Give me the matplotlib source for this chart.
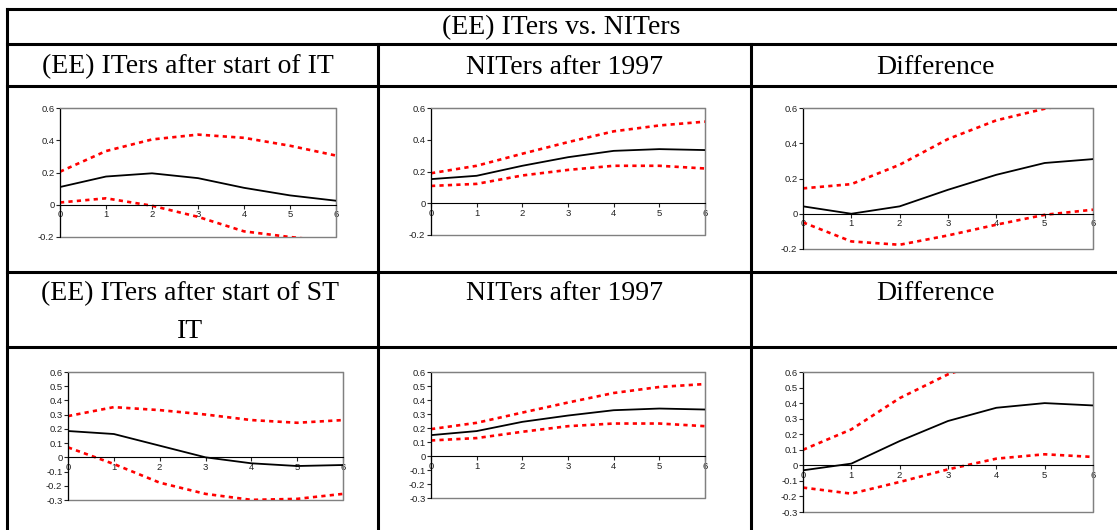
import matplotlib
matplotlib.use('Agg')
import matplotlib.pyplot as plt
from matplotlib.lines import Line2D
from matplotlib.patches import Rectangle

# horizons
steps = [0, 1, 2, 3, 4, 5, 6]

# top row: start of IT
it_mid = [0.11, 0.175, 0.195, 0.165, 0.105, 0.058, 0.025]
it_hi = [0.205, 0.333, 0.405, 0.435, 0.415, 0.366, 0.305]
it_lo = [0.014, 0.04, -0.006, -0.075, -0.165, -0.2, -0.23]

nit_mid = [0.152, 0.173, 0.236, 0.29, 0.33, 0.341, 0.335]
nit_hi = [0.189, 0.236, 0.312, 0.385, 0.453, 0.49, 0.514]
nit_lo = [0.109, 0.122, 0.175, 0.21, 0.236, 0.236, 0.219]

diff_mid = [0.042, 0.0, 0.042, 0.136, 0.221, 0.288, 0.31]
diff_hi = [0.144, 0.168, 0.278, 0.424, 0.53, 0.596, 0.64]
diff_lo = [-0.049, -0.157, -0.176, -0.123, -0.062, -0.006, 0.023]

# bottom row: start of ST IT
st_mid = [0.185, 0.164, 0.082, 0.0, -0.042, -0.061, -0.054]
st_hi = [0.29, 0.353, 0.332, 0.301, 0.262, 0.243, 0.262]
st_lo = [0.07, -0.047, -0.178, -0.257, -0.299, -0.292, -0.257]

nit2_mid = [0.149, 0.178, 0.244, 0.289, 0.327, 0.339, 0.332]
nit2_hi = [0.192, 0.237, 0.31, 0.382, 0.45, 0.493, 0.514]
nit2_lo = [0.111, 0.128, 0.173, 0.213, 0.232, 0.232, 0.213]

diff2_mid = [-0.032, 0.011, 0.156, 0.285, 0.37, 0.40, 0.385]
diff2_hi = [0.1, 0.231, 0.432, 0.585, 0.69, 0.72, 0.72]
diff2_lo = [-0.143, -0.182, -0.107, -0.026, 0.043, 0.071, 0.054]

W, H = 1117, 530
fig = plt.figure(figsize=(W / 100, H / 100), dpi=100)


def px_axes(x0, y0, x1, y1):
    # pixel box (top-left origin) -> figure fraction
    return fig.add_axes([x0 / W, 1 - y1 / H, (x1 - x0) / W, (y1 - y0) / H])


def hline(y, x0=7, x1=W):
    fig.add_artist(Line2D([x0 / W, x1 / W], [1 - y / H, 1 - y / H], color='black', lw=2.2))


def vline(x, y0, y1=H):
    fig.add_artist(Line2D([x / W, x / W], [1 - y0 / H, 1 - y1 / H], color='black', lw=2.2))


# table grid
for y in [9, 44, 86, 272, 347]:
    hline(y)
vline(7, 9)
vline(378, 44)
vline(751, 44)

serif = 'Liberation Serif'
fs = 20
fig.text(561 / W, 1 - 28 / H, '(EE) ITers vs. NITers', ha='center', va='center', family=serif, fontsize=fs)
fig.text(188 / W, 1 - 67 / H, '(EE) ITers after start of IT', ha='center', va='center', family=serif, fontsize=fs)
fig.text(564 / W, 1 - 67 / H, 'NITers after 1997', ha='center', va='center', family=serif, fontsize=fs)
fig.text(935 / W, 1 - 67 / H, 'Difference', ha='center', va='center', family=serif, fontsize=fs)
fig.text(190 / W, 1 - 294 / H, '(EE) ITers after start of ST', ha='center', va='center', family=serif, fontsize=fs)
fig.text(190 / W, 1 - 331 / H, 'IT', ha='center', va='center', family=serif, fontsize=fs)
fig.text(564 / W, 1 - 294 / H, 'NITers after 1997', ha='center', va='center', family=serif, fontsize=fs)
fig.text(935 / W, 1 - 294 / H, 'Difference', ha='center', va='center', family=serif, fontsize=fs)


def irf(ax, mid, hi, lo, ymin, ystep):
    ax.plot(steps, hi, color='red', lw=1.9, ls=(0, (1.6, 1.6)))
    ax.plot(steps, lo, color='red', lw=1.9, ls=(0, (1.6, 1.6)))
    ax.plot(steps, mid, color='black', lw=1.3)
    ax.set_xlim(0, 6)
    ax.set_ylim(ymin, 0.6)
    n = int(round((0.6 - ymin) / ystep))
    yt = [round(ymin + i * ystep, 2) for i in range(n + 1)]
    ax.set_yticks(yt)
    ax.set_yticklabels(['0' if v == 0 else f'{v:g}' for v in yt])
    ax.set_xticks(steps)
    for s in ['top', 'right']:
        ax.spines[s].set_color('#808080')
    ax.spines['left'].set_color('black')
    ax.spines['bottom'].set_position(('data', 0))
    ax.spines['bottom'].set_color('black')
    ax.add_patch(Rectangle((0, 0), 1, 1, transform=ax.transAxes, fill=False,
                           edgecolor='#808080', lw=1, clip_on=False, zorder=0))
    ax.tick_params(labelsize=6.8, colors='#222222', length=3, width=0.8, pad=1)
    for lab in ax.get_xticklabels() + ax.get_yticklabels():
        lab.set_family('Liberation Sans')


irf(px_axes(60, 108, 336, 237), it_mid, it_hi, it_lo, -0.2, 0.2)
irf(px_axes(431, 108, 705, 235), nit_mid, nit_hi, nit_lo, -0.2, 0.2)
irf(px_axes(803, 108, 1093, 249), diff_mid, diff_hi, diff_lo, -0.2, 0.2)
irf(px_axes(68, 372, 343, 500), st_mid, st_hi, st_lo, -0.3, 0.1)
irf(px_axes(431, 372, 705, 498), nit2_mid, nit2_hi, nit2_lo, -0.3, 0.1)
irf(px_axes(803, 372, 1093, 512), diff2_mid, diff2_hi, diff2_lo, -0.3, 0.1)

plt.savefig('out.png', dpi=100)
